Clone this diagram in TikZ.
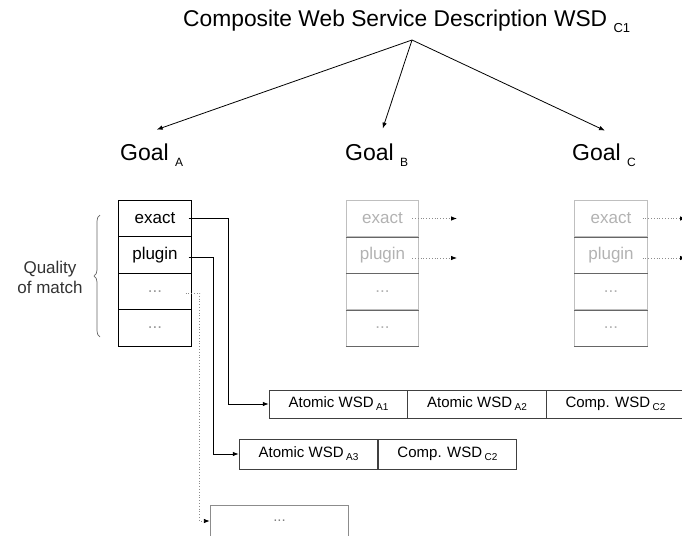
\documentclass[tikz,border=0pt]{standalone}
\usepackage{fontspec}
\setmainfont{Liberation Sans}
\usetikzlibrary{arrows.meta,decorations.pathreplacing}
\newcommand{\gsub}[1]{~\raisebox{-6pt}{\fontsize{12}{12}\selectfont #1}}
\newcommand{\tsub}[1]{~\raisebox{-6pt}{\fontsize{13}{13}\selectfont #1}}
\newcommand{\csub}[1]{\,\raisebox{-3pt}{\fontsize{10}{10}\selectfont #1}}

\begin{document}
\begin{tikzpicture}[x=1pt, y=-1pt,
    qcell/.style={draw, line width=0.8pt, minimum width=72.5pt, minimum height=36.5pt, inner sep=0pt, font=\fontsize{17}{17}\selectfont},
    fcell/.style={qcell, draw=black!25, text=black!30},
    divider/.style={draw=black!60, line width=0.8pt},
    wsdcell/.style={draw=black!75, line width=0.8pt, minimum width=138.5pt, inner sep=0pt, font=\fontsize{15}{15}\selectfont},
    goal/.style={anchor=base west, inner sep=0pt, font=\fontsize{23}{23}\selectfont},
    link/.style={-{Latex[length=6pt,width=4.5pt]}, line width=1pt},
    dotlink/.style={-{Latex[length=6pt,width=4.5pt,color=black]}, dotted, draw=black!45, line width=0.8pt},
    goalarrow/.style={-{Latex[length=6pt,width=4.5pt]}, line width=0.8pt}]
    \useasboundingbox (0,0) rectangle (682,535);

    % Title and goals
    \node[anchor=base west, inner sep=0pt, font=\fontsize{22.8}{22.8}\selectfont] (title) at (183,27) {Composite Web Service Description WSD\tsub{C1}};
    \coordinate (apex) at (412,40);
    \node[goal] (goalA) at (120,160.5) {Goal\gsub{A}};
    \node[goal] (goalB) at (345,160.5) {Goal\gsub{B}};
    \node[goal] (goalC) at (572,160.5) {Goal\gsub{C}};

    \draw[goalarrow] (apex) -- ([xshift=5pt, yshift=14pt]goalA.north);
    \draw[goalarrow] (apex) -- ([xshift=6pt, yshift=15pt]goalB.north);
    \draw[goalarrow] (apex) -- ([xshift=1pt, yshift=13pt]goalC.north);

    % Quality of match of goal A
    \node[qcell] (aex) at (155,218.5) {exact};
    \node[qcell] (apl) at (155,255) {plugin};
    \node[qcell, text=black!40] (ad1) at (155,291.5) {...};
    \node[qcell, text=black!40] (ad2) at (155,328) {...};
    \draw[decorate, decoration={brace, amplitude=6pt}, draw=black!60, line width=0.7pt] (100,337) -- (100,215);
    \node[align=center, text=black!80, font=\fontsize{17}{20}\selectfont] (quality) at (50,277) {Quality\\of match};

    % Goals B and C (faded)
    \node[fcell] (bex) at (382.5,218.5) {exact};
    \node[fcell] (bpl) at (382.5,255) {plugin};
    \node[fcell] (bd1) at (382.5,291.5) {...};
    \node[fcell] (bd2) at (382.5,328) {...};
    \node[fcell] (cex) at (611,218.5) {exact};
    \node[fcell] (cpl) at (611,255) {plugin};
    \node[fcell] (cd1) at (611,291.5) {...};
    \node[fcell] (cd2) at (611,328) {...};
    \draw[divider] (bex.south west) -- (bex.south east);
    \draw[divider] (bpl.south west) -- (bpl.south east);
    \draw[divider] (bd1.south west) -- (bd1.south east);
    \draw[divider] (bd2.south west) -- (bd2.south east);
    \draw[divider] (cex.south west) -- (cex.south east);
    \draw[divider] (cpl.south west) -- (cpl.south east);
    \draw[divider] (cd1.south west) -- (cd1.south east);
    \draw[divider] (cd2.south west) -- (cd2.south east);

    \coordinate (bexend) at (457,218.5);
    \coordinate (bplend) at (457,258);
    \coordinate (cexend) at (686,218.5);
    \coordinate (cplend) at (686,258);
    \draw[dotlink] ([xshift=-7pt]bex.east) -- (bexend);
    \draw[dotlink] ([xshift=-7pt, yshift=-3pt]bpl.east) -- (bplend);
    \draw[dotlink] ([xshift=-5pt]cex.east) -- (cexend);
    \draw[dotlink] ([xshift=-5pt, yshift=-3pt]cpl.east) -- (cplend);

    % Matching web service descriptions
    \node[wsdcell, minimum height=28pt] (r1a) at (338.5,404) {Atomic WSD\csub{A1}};
    \node[wsdcell, minimum height=28pt] (r1b) at (477,404) {Atomic WSD\csub{A2}};
    \node[wsdcell, minimum height=28pt] (r1c) at (615.5,404) {Comp. WSD\csub{C2}};
    \node[wsdcell, minimum height=30pt] (r2a) at (308.5,454) {Atomic WSD\csub{A3}};
    \node[wsdcell, minimum height=30pt] (r2b) at (447.5,454) {Comp. WSD\csub{C2}};
    \node[wsdcell, minimum height=32pt, draw=black!45, text=black!50] (r3) at (279.5,521) {...};

    \draw[link] ([xshift=-3pt]aex.east) -- ++(40,0) |- (r1a.west);
    \draw[link] ([xshift=-3pt, yshift=-2pt]apl.east) -- ++(25,0) |- (r2a.west);
    \draw[dotlink] ([xshift=-6pt, yshift=-1.5pt]ad1.east) -- ++(14,0) |- (r3.west);
\end{tikzpicture}
\end{document}
